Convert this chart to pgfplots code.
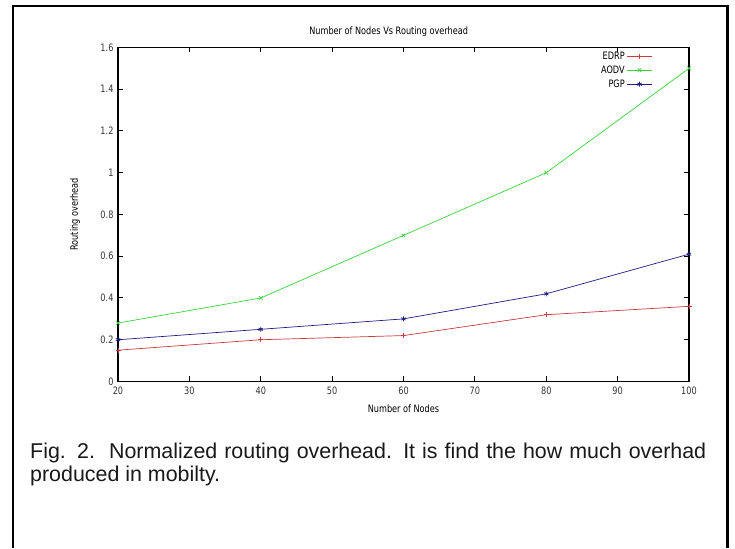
\documentclass[border=0pt]{standalone}
\usepackage{fontspec}
\usepackage{pgfplots}
\pgfplotsset{compat=1.18}
\setmainfont{Liberation Sans}
\newfontfamily\gp[FakeStretch=0.8]{DejaVu Sans}
\newcommand{\gpfont}{\gp\fontsize{10.2}{11}\selectfont}

\definecolor{gpred}{RGB}{200,60,60}
\definecolor{gpgreen}{RGB}{60,210,60}
\definecolor{gpblue}{RGB}{30,30,130}

\begin{document}
\begin{tikzpicture}
\path[use as bounding box] (0pt,0pt) rectangle (735pt,548pt);
% outer frame (open at the bottom)
\draw[line width=2.5pt] (13pt,0pt) -- (13pt,542pt) -- (727.5pt,542pt) -- (727.5pt,0pt);

\begin{axis}[
  at={(118pt,166.5pt)}, anchor=south west,
  scale only axis, width=571pt, height=334pt,
  xmin=20, xmax=100, ymin=0, ymax=1.6,
  xtick={20,30,...,100},
  ytick={0,0.2,...,1.6},
  tick align=inside,
  major tick length=5pt,
  axis line style={line width=1.3pt},
  every tick/.style={black, line width=1pt},
  /pgf/number format/assume math mode=true,
  /pgf/number format/fixed,
  tick label style={font=\gpfont, text=black!80},
  xticklabel style={yshift=-2pt},
  yticklabel style={xshift=-1pt},
  title={Number of Nodes Vs Routing overhead},
  title style={font=\gpfont, at={(0.474,1)}, yshift=1pt},
  xlabel={Number of Nodes},
  ylabel={Routing overhead},
  label style={font=\gpfont},
  xlabel style={at={(0.5,-0.081)}, anchor=center},
  ylabel style={at={(-0.0753,0.5)}, anchor=center},
  legend style={draw=none, fill=none, at={(0.938,0.997)}, anchor=north east,
    font=\gpfont, row sep=1pt, inner sep=1pt},
  legend cell align=right,
  legend plot pos=right,
  legend image code/.code={
    \draw[mark repeat=2,mark phase=2,#1] plot coordinates {(0pt,0pt) (12.5pt,0pt) (25pt,0pt)};},
  every axis plot/.append style={line width=0.7pt, mark size=2.5pt},
]
\addplot[gpred, mark=+] coordinates {(20,0.15) (40,0.20) (60,0.22) (80,0.32) (100,0.36)};
\addlegendentry{EDRP}
\addplot[gpgreen, mark=x] coordinates {(20,0.28) (40,0.40) (60,0.70) (80,1.00) (100,1.50)};
\addlegendentry{AODV}
\addplot[gpblue, mark=asterisk] coordinates {(20,0.20) (40,0.25) (60,0.30) (80,0.42) (100,0.61)};
\addlegendentry{PGP}
\end{axis}

\node[anchor=north west, text width=676pt, align=justify, inner sep=0pt,
  font=\fontsize{21.4}{23.5}\selectfont, text=black!90]
  at (30pt,105.5pt) {Fig. 2.\ \ Normalized routing overhead. It is find the how much overhad produced in mobilty.};
\end{tikzpicture}
\end{document}
